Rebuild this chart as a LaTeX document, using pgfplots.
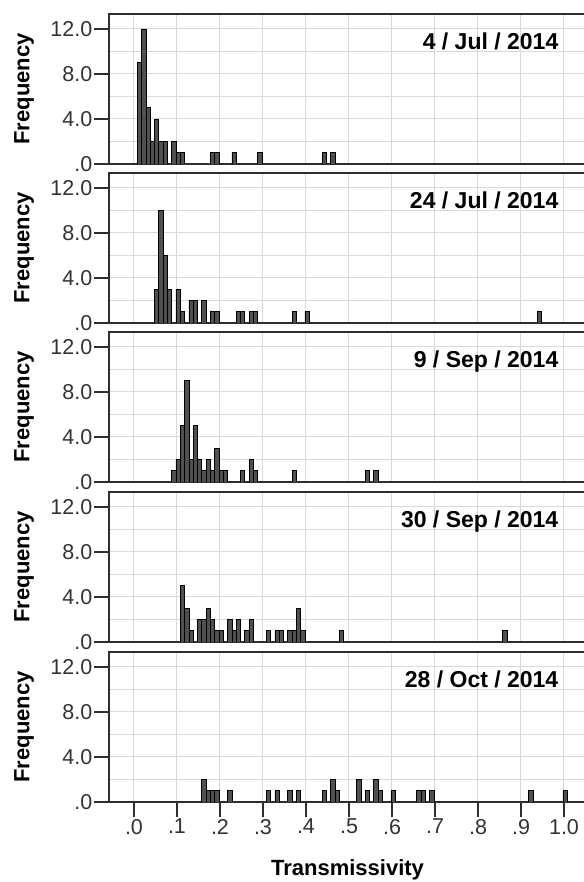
\documentclass[border=0pt]{standalone}
\usepackage{fontspec}
\setmainfont{Liberation Sans}
\usepackage{pgfplots}
\pgfplotsset{compat=1.18}

\definecolor{gridgray}{HTML}{D9D9D9}
\definecolor{barfill}{HTML}{505050}
\definecolor{framegray}{HTML}{2E2E2E}

\newcommand{\tickfont}{\fontsize{21.5}{24}\selectfont}
\newcommand{\labfont}{\bfseries\fontsize{22}{26}\selectfont}
\newcommand{\datefont}{\bfseries\fontsize{23}{27}\selectfont}

\pgfplotsset{
  panel/.style={
    scale only axis, width=477pt, height=150pt,
    anchor=south west,
    xmin=-0.0581, xmax=1.0512, ymin=0, ymax=13.33,
    axis line style={framegray, line width=1.3pt},
    ytick={0,4,8,12}, yticklabels={.0,4.0,8.0,12.0},
    minor ytick={2,6,10},
    xtick={0,0.1,0.2,0.3,0.4,0.5,0.6,0.7,0.8,0.9,1.0},
    xmajorgrids, ymajorgrids, yminorgrids,
    grid style={gridgray, line width=1pt},
    minor grid style={gridgray, line width=1pt},
    tick align=outside, ytick pos=left, xtick pos=bottom,
    major tick length=15pt, minor tick length=0pt,
    ytick style={framegray, line width=1.3pt},
    yticklabel style={font=\tickfont, text=black!80, inner sep=1.5pt},
    ylabel={Frequency},
    ylabel style={font=\labfont, at={(axis description cs:-0.178,0.5)}, anchor=center},
  },
  upper/.style={xticklabels={}, xtick style={draw=none}},
  bars/.style={ybar, bar width=0.01, fill=barfill, draw=black, line width=0.6pt},
}

\begin{document}
\begin{tikzpicture}
\useasboundingbox (0,0) rectangle (583pt,882pt);

\begin{axis}[panel, upper, at={(109pt,718pt)}]
\addplot[bars] coordinates {(0.0125,9) (0.0225,12) (0.0325,5) (0.0425,2) (0.0525,4) (0.0625,2) (0.0725,2) (0.0925,2) (0.1025,1) (0.1125,1) (0.1825,1) (0.1925,1) (0.2325,1) (0.2925,1) (0.4425,1) (0.4625,1)};
\node[anchor=base east, font=\datefont] at (axis cs:0.995,10.2) {4 / Jul / 2014};
\end{axis}

\begin{axis}[panel, upper, at={(109pt,559pt)}]
\addplot[bars] coordinates {(0.0525,3) (0.0625,10) (0.0725,6) (0.0825,3) (0.1025,3) (0.1125,1) (0.1325,2) (0.1425,2) (0.1625,2) (0.1825,1) (0.1925,1) (0.2425,1) (0.2525,1) (0.2725,1) (0.2825,1) (0.3725,1) (0.4025,1) (0.9425,1)};
\node[anchor=base east, font=\datefont] at (axis cs:0.995,10.2) {24 / Jul / 2014};
\end{axis}

\begin{axis}[panel, upper, at={(109pt,400pt)}]
\addplot[bars] coordinates {(0.0925,1) (0.1025,2) (0.1125,5) (0.1225,9) (0.1325,2) (0.1425,5) (0.1525,2) (0.1625,1) (0.1725,2) (0.1825,1) (0.1925,3) (0.2025,1) (0.2125,1) (0.2525,1) (0.2725,2) (0.2825,1) (0.3725,1) (0.5425,1) (0.5625,1)};
\node[anchor=base east, font=\datefont] at (axis cs:0.995,10.2) {9 / Sep / 2014};
\end{axis}

\begin{axis}[panel, upper, at={(109pt,240pt)}]
\addplot[bars] coordinates {(0.1125,5) (0.1225,3) (0.1325,1) (0.1525,2) (0.1625,2) (0.1725,3) (0.1825,2) (0.1925,1) (0.2025,1) (0.2225,2) (0.2325,1) (0.2425,2) (0.2625,1) (0.2725,2) (0.3125,1) (0.3325,1) (0.3425,1) (0.3625,1) (0.3725,1) (0.3825,3) (0.3925,1) (0.4825,1) (0.8625,1)};
\node[anchor=base east, font=\datefont] at (axis cs:0.995,10.2) {30 / Sep / 2014};
\end{axis}

\begin{axis}[panel, at={(109pt,80pt)},
  xticklabels={.0,.1,.2,.3,.4,.5,.6,.7,.8,.9,1.0},
  xtick style={framegray, line width=1.3pt},
  xticklabel style={font=\tickfont, text=black!80, inner sep=2pt},
  xlabel={Transmissivity},
  xlabel style={font=\labfont, at={(axis description cs:0.5,0)}, anchor=base, yshift=-74pt}]
\addplot[bars] coordinates {(0.1625,2) (0.1725,1) (0.1825,1) (0.1925,1) (0.2225,1) (0.3125,1) (0.3325,1) (0.3625,1) (0.3825,1) (0.4425,1) (0.4625,2) (0.4725,1) (0.5225,2) (0.5425,1) (0.5625,2) (0.5725,1) (0.6025,1) (0.6625,1) (0.6725,1) (0.6925,1) (0.9225,1) (1.0025,1)};
\node[anchor=base east, font=\datefont] at (axis cs:0.995,10.2) {28 / Oct / 2014};
\end{axis}
\end{tikzpicture}
\end{document}
